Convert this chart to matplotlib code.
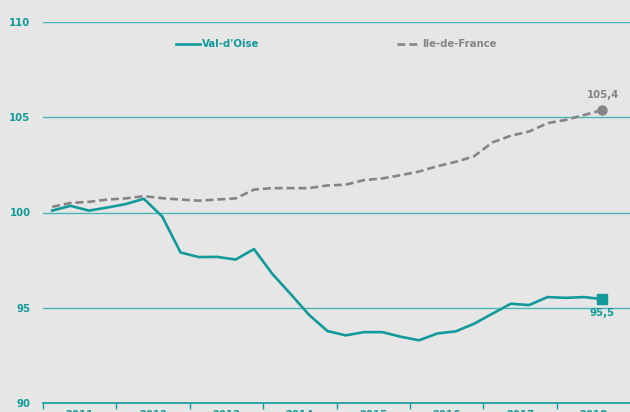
import numpy as np
import matplotlib
matplotlib.use("Agg")
from matplotlib import pyplot as plt

# quarterly index, Q1 2011 -> Q3 2018
years = ["2011", "2012", "2013", "2014", "2015", "2016", "2017", "2018"]
valDoise = [100.1, 100.35, 100.1, 100.26, 100.44, 100.72, 99.79, 97.9,
            97.66, 97.67, 97.53, 98.08, 96.78, 95.72, 94.63, 93.78,
            93.55, 93.72, 93.72, 93.48, 93.29, 93.65, 93.76, 94.16,
            94.69, 95.21, 95.14, 95.56, 95.52, 95.56, 95.45]
ileDeFrance = [100.3, 100.5, 100.56, 100.68, 100.74, 100.86, 100.75, 100.68,
               100.62, 100.68, 100.74, 101.2, 101.28, 101.28, 101.28, 101.42,
               101.46, 101.7, 101.79, 101.96, 102.15, 102.43, 102.66, 102.95,
               103.68, 104.03, 104.25, 104.69, 104.86, 105.12, 105.38]
yTicks = [90, 95, 100, 105, 110]

teal = "#129a9a"
gridTeal = "#4cb6b6"
grey = "#858585"
bg = "#e6e6e6"
fs = 7.3

plt.rcParams["font.family"] = "DejaVu Sans"
plt.rcParams["font.weight"] = "bold"

fig = plt.figure(figsize=(6.3, 4.12), dpi=100, facecolor=bg)
ax = fig.add_axes([43 / 630, 9 / 412, 587 / 630, 381 / 412], facecolor=bg)

x = np.arange(len(valDoise)) + 0.5
ax.plot(x, ileDeFrance, color=grey, lw=1.9, dashes=(3.0, 1.5), label="Ile-de-France", zorder=3)
ax.plot(x, valDoise, color=teal, lw=1.9, label="Val-d'Oise", zorder=4)
ax.plot(x[-1], ileDeFrance[-1], "o", color=grey, ms=6.5, zorder=5)
ax.plot(x[-1], valDoise[-1], "s", color=teal, ms=6.5, zorder=5)

ax.annotate("105,4", (x[-1], ileDeFrance[-1]), xytext=(0, 7), textcoords="offset points",
            ha="center", va="bottom", color=grey, fontsize=fs, fontweight="bold")
ax.annotate("95,5", (x[-1], valDoise[-1]), xytext=(0, -6), textcoords="offset points",
            ha="center", va="top", color=teal, fontsize=fs, fontweight="bold")

ax.set_xlim(0, 4 * len(years))
ax.set_ylim(90, 110)
ax.set_yticks(yTicks)
ax.set_yticklabels([str(v) for v in yTicks], color=teal, fontsize=fs, fontweight="bold")
ax.tick_params(axis="y", length=0, pad=9)
ax.grid(axis="y", color=gridTeal, lw=1)

ax.set_xticks(np.arange(0, 4 * len(years), 4))
ax.set_xticklabels([])
ax.set_xticks(np.arange(2, 4 * len(years), 4), minor=True)
ax.set_xticklabels(years, minor=True, color=teal, fontsize=fs, fontweight="bold")
ax.tick_params(axis="x", which="major", length=4, width=1, color=teal, direction="out")
ax.tick_params(axis="x", which="minor", length=0, pad=5)

for side in ["top", "right", "left"]:
    ax.spines[side].set_visible(False)
ax.spines["bottom"].set_color(teal)
ax.spines["bottom"].set_linewidth(1.2)

handles, labels = ax.get_legend_handles_labels()
leg = ax.legend(handles[::-1], labels[::-1], ncol=2, loc="center", bbox_to_anchor=(0.5, 0.942),
                frameon=False, fontsize=fs, handlelength=2.3, handletextpad=0.2,
                columnspacing=13.6, labelcolor="linecolor")
for t in leg.get_texts():
    t.set_fontweight("bold")

plt.savefig("out.png", dpi=100, facecolor=bg)
